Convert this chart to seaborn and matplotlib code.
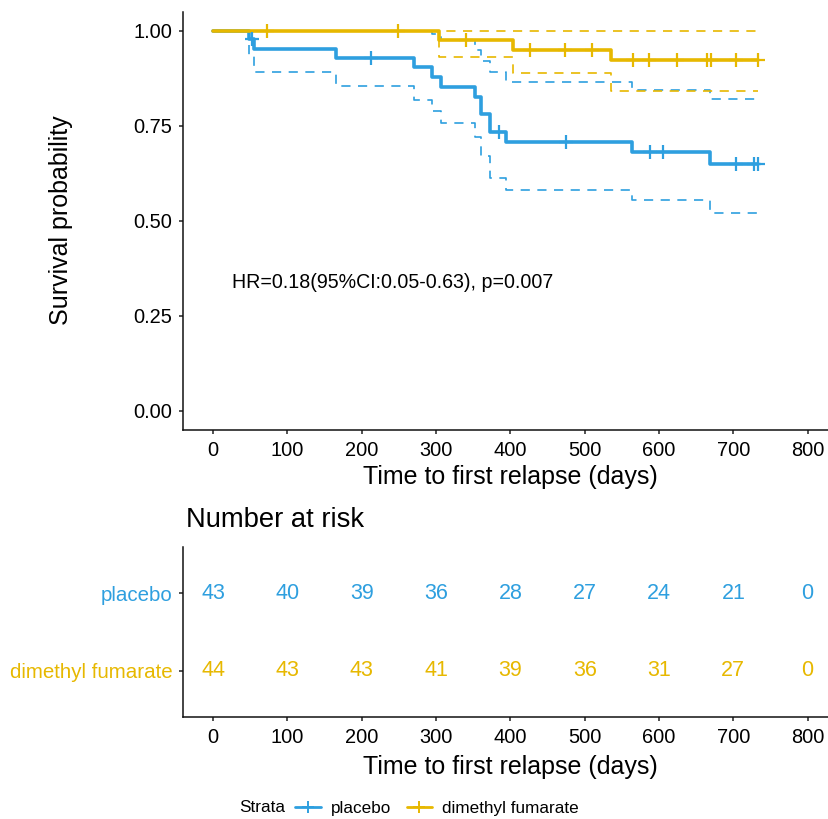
import numpy as np
import pandas as pd
import matplotlib
matplotlib.use("Agg")
import matplotlib.pyplot as plt
from matplotlib.lines import Line2D
import seaborn as sns

# ---------------- data ----------------
strata = ["placebo", "dimethyl fumarate"]
colors = {"placebo": "#2E9FDF", "dimethyl fumarate": "#E7B800"}

placebo_time = [0, 49, 55, 165, 271, 294, 307, 353, 360, 372, 394, 563, 669, 733]
placebo_surv = [1.0, 0.977, 0.953, 0.928, 0.904, 0.879, 0.853, 0.826, 0.780, 0.732, 0.706, 0.681, 0.649, 0.649]
placebo_lo = [1.0, 0.933, 0.892, 0.855, 0.818, 0.789, 0.756, 0.719, 0.669, 0.612, 0.581, 0.553, 0.519, 0.519]
placebo_hi = [1.0, 1.0, 1.0, 1.0, 1.0, 0.992, 0.975, 0.950, 0.921, 0.890, 0.864, 0.843, 0.819, 0.819]
placebo_censor = [53, 212, 385, 475, 588, 605, 704, 728, 733]

dmf_time = [0, 304, 403, 535, 733]
dmf_surv = [1.0, 0.976, 0.950, 0.922, 0.922]
dmf_lo = [1.0, 0.930, 0.888, 0.842, 0.842]
dmf_hi = [1.0, 1.0, 1.0, 1.0, 1.0]
dmf_censor = [73, 249, 341, 427, 473, 510, 565, 587, 624, 664, 670, 704, 733]

risk_times = [0, 100, 200, 300, 400, 500, 600, 700, 800]
risk_placebo = [43, 40, 39, 36, 28, 27, 24, 21, 0]
risk_dmf = [44, 43, 43, 41, 39, 36, 31, 27, 0]

x_ticks = [0, 100, 200, 300, 400, 500, 600, 700, 800]
y_ticks = [0.0, 0.25, 0.5, 0.75, 1.0]
y_ticklabels = ["0.00", "0.25", "0.50", "0.75", "1.00"]
annot_text = "HR=0.18(95%CI:0.05-0.63), p=0.007"
x_title = "Time to first relapse (days)"
y_title = "Survival probability"
table_title = "Number at risk"

# ---------------- style ----------------
sns.set_theme(style="ticks")
plt.rcParams["font.family"] = ["Liberation Sans", "DejaVu Sans"]
plt.rcParams["text.color"] = "black"
plt.rcParams["axes.labelcolor"] = "black"
plt.rcParams["axes.edgecolor"] = "#111111"
plt.rcParams["axes.linewidth"] = 1.1
plt.rcParams["xtick.major.width"] = 1.1
plt.rcParams["ytick.major.width"] = 1.1
plt.rcParams["xtick.major.size"] = 3.0
plt.rcParams["ytick.major.size"] = 3.0
plt.rcParams["xtick.color"] = "#222222"
plt.rcParams["ytick.color"] = "#222222"

W, H = 829, 819
fig = plt.figure(figsize=(W / 100, H / 100), dpi=100)

def frac_box(left, top, right, bottom):
    return [left / W, 1 - bottom / H, (right - left) / W, (bottom - top) / H]

ax = fig.add_axes(frac_box(183.3, 11.7, 837.4, 429.5))
axt = fig.add_axes(frac_box(183.3, 547, 837.4, 717))

curves = {
    "placebo": (placebo_time, placebo_surv, placebo_lo, placebo_hi, placebo_censor),
    "dimethyl fumarate": (dmf_time, dmf_surv, dmf_lo, dmf_hi, dmf_censor),
}

dash = (0, (5.5, 4.5))
# confidence limits first
for name in strata:
    t, s, lo, hi, cens = curves[name]
    df = pd.DataFrame({"time": t, "lo": lo, "hi": hi})
    for col in ["lo", "hi"]:
        sns.lineplot(data=df, x="time", y=col, ax=ax, color=colors[name],
                     estimator=None, errorbar=None, sort=False,
                     drawstyle="steps-post", linewidth=1.2, linestyle=dash)

# survival curves + censor marks
for name in strata:
    t, s, lo, hi, cens = curves[name]
    df = pd.DataFrame({"time": t, "surv": s})
    sns.lineplot(data=df, x="time", y="surv", ax=ax, color=colors[name],
                 estimator=None, errorbar=None, sort=False,
                 drawstyle="steps-post", linewidth=2.6)
    t_arr = np.asarray(t)
    s_arr = np.asarray(s)
    idx = np.searchsorted(t_arr, np.asarray(cens), side="right") - 1
    cdf = pd.DataFrame({"time": cens, "surv": s_arr[idx]})
    sns.scatterplot(data=cdf, x="time", y="surv", ax=ax, marker="+",
                    color=colors[name], s=110, linewidth=1.6, zorder=5)

ax.set_xlim(-40, 840)
ax.set_ylim(-0.05, 1.05)
ax.set_xticks(x_ticks)
ax.set_xticklabels([str(v) for v in x_ticks], fontsize=14.4)
ax.set_yticks(y_ticks)
ax.set_yticklabels(y_ticklabels, fontsize=14.4)
ax.tick_params(axis="both", pad=5)
for lab in ax.get_xticklabels() + ax.get_yticklabels():
    lab.set_color("black")
ax.set_xlabel(x_title, fontsize=18, color="black")
ax.set_ylabel(y_title, fontsize=18, color="black")
axw = 837.4 - 183.3
axh = 429.5 - 11.7
ax.xaxis.set_label_coords((510.5 - 183.3) / axw, -(465 - 429.5) / axh)
ax.yaxis.set_label_coords((73 - 183.3) / axw, 0.5)
ax.text(25, 0.336, annot_text, fontsize=14.1, ha="left", va="center", color="black")
sns.despine(ax=ax)

# ---------------- risk table ----------------
rows = {"placebo": (2, risk_placebo), "dimethyl fumarate": (1, risk_dmf)}
for name in strata:
    ypos, vals = rows[name]
    for xv, n in zip(risk_times, vals):
        axt.text(xv, ypos, str(n), ha="center", va="center",
                 fontsize=15.5, color=colors[name])
axt.set_xlim(-40, 840)
axt.set_ylim(0.4, 2.6)
axt.set_xticks(x_ticks)
axt.set_xticklabels([str(v) for v in x_ticks], fontsize=14.4)
axt.set_yticks([2, 1])
axt.set_yticklabels(["placebo", "dimethyl fumarate"], fontsize=14.8)
for lab, name in zip(axt.get_yticklabels(), ["placebo", "dimethyl fumarate"]):
    lab.set_color(colors[name])
for lab in axt.get_xticklabels():
    lab.set_color("black")
axt.tick_params(axis="both", pad=5)
axt.set_xlabel(x_title, fontsize=18, color="black")
axt.set_ylabel("")
axth = 717 - 547
axt.xaxis.set_label_coords((510.5 - 183.3) / axw, -(755 - 717) / axth)
sns.despine(ax=axt)
fig.text(186 / W, 1 - 520 / H, table_title, fontsize=19.7, ha="left", va="center",
         color="black")

# ---------------- legend ----------------
fig.text(239 / W, 1 - 808 / H, "Strata", fontsize=12.3, ha="left", va="center",
         color="black")
handles = [Line2D([0], [0], color=colors[n], lw=2.0, marker="+", markersize=9,
                  markeredgewidth=1.4) for n in strata]
fig.legend(handles, strata, loc="center left", bbox_to_anchor=(295 / W, 1 - 808 / H),
           ncol=2, frameon=False, fontsize=12.3, handlelength=1.5,
           handletextpad=0.6, columnspacing=0.9, borderpad=0, borderaxespad=0,
           labelcolor="black")

fig.savefig("out.png", dpi=100)
